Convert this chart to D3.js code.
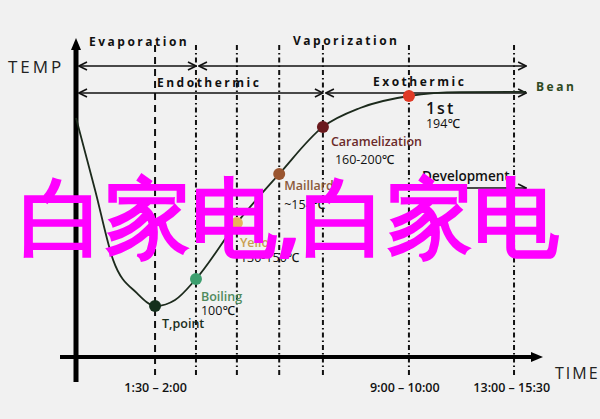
<!DOCTYPE html>
<html><head><meta charset="utf-8">
<script src="https://cdn.jsdelivr.net/npm/d3@7"></script>
<style>
html,body{margin:0;padding:0;background:#f1f1f1;}
svg{display:block;}
text{font-family:"Open Sans","Noto Sans",sans-serif;}
</style></head>
<body>
<script>
// ---- data (abstract units: x = roast progress 0..100, y = relative temperature 0..100) ----
const stageLines = [17, 25.8, 34.6, 43.7, 53.1, 71.6, 94.2];
const curveX = [0, 2.4, 4.1, 8, 13.1, 17.2, 21.3, 25.8, 34.6, 43.7, 53.1, 61.1, 71.6, 82.6, 96.8];
const curveY = [79.7, 65.7, 55.7, 32.3, 21.3, 17, 19, 26, 44.7, 61, 76.7, 83, 87, 88.3, 88.4];
const pointNames = ["T,point", "Boiling", "Yello", "Maillard", "Caramelization", "1st"];
const pointTemps = ["", "100℃", "130-150℃", "~154℃", "160-200℃", "194℃"];
const pointX = [17, 25.8, 34.6, 43.7, 53.1, 71.6];
const pointY = [17, 26, 44.7, 61, 76.7, 87];
const tickValues = [17, 70.6, 93.6];
const tickLabels = ["1:30 – 2:00", "9:00 – 10:00", "13:00 – 15:30"];
const phaseNames = ["Evaporation", "Vaporization"];
const phaseFrom = [0, 25.8];
const phaseTo = [25.8, 96.8];
const heatNames = ["Endothermic", "Exothermic"];
const heatFrom = [0, 53.1];
const heatTo = [53.1, 96.8];
const devFrom = 71.6, devTo = 96.8;

// ---- layout ----
const W = 600, H = 419;
const x = d3.scaleLinear().domain([0, 100]).range([76, 541]);
const y = d3.scaleLinear().domain([0, 100]).range([357, 57]);
const svg = d3.select("body").append("svg").attr("width", W).attr("height", H);
svg.append("rect").attr("width", W).attr("height", H).attr("fill", "#f1f1f1");

const defs = svg.append("defs");
defs.append("marker").attr("id", "chev").attr("viewBox", "0 0 10 10")
  .attr("refX", 9).attr("refY", 5).attr("markerWidth", 10).attr("markerHeight", 10)
  .attr("markerUnits", "userSpaceOnUse").attr("orient", "auto-start-reverse")
  .append("path").attr("d", "M1,1 L9,5 L1,9").attr("fill", "none")
  .attr("stroke", "#111").attr("stroke-width", 1.6);

// vertical stage lines
const lineDash = ["7,5", "5,3,1.5,3", "5,3,1.5,3", "5,3,1.5,3", "5,3,1.5,3", "5,3,1.5,3", "5,3,1.5,3"];
svg.append("g").selectAll("line").data(stageLines).join("line")
  .attr("x1", d => x(d)).attr("x2", d => x(d))
  .attr("y1", 45).attr("y2", 375)
  .attr("stroke", "#111").attr("stroke-width", 2)
  .attr("stroke-dasharray", (d, i) => lineDash[i]);

// axes (thick, with arrows)
svg.append("line").attr("x1", x(0)).attr("x2", x(0)).attr("y1", 48).attr("y2", 382)
  .attr("stroke", "#000").attr("stroke-width", 5);
svg.append("path").attr("d", `M${x(0)-5},50 L${x(0)},38 L${x(0)+5},50 Z`).attr("fill", "#000");
svg.append("line").attr("x1", 60).attr("x2", 533).attr("y1", y(0)).attr("y2", y(0))
  .attr("stroke", "#000").attr("stroke-width", 4);
svg.append("path").attr("d", `M531,${y(0)-5} L543,${y(0)} L531,${y(0)+5} Z`).attr("fill", "#000");

svg.append("text").attr("x", 8).attr("y", 73).text("TEMP")
  .attr("font-size", 17).attr("letter-spacing", 3).attr("fill", "#222");
svg.append("text").attr("x", 555).attr("y", 379).text("TIME")
  .attr("font-size", 16).attr("letter-spacing", 2).attr("fill", "#222");

// tick labels via axis
const axisG = svg.append("g").attr("transform", `translate(0,${380})`)
  .call(d3.axisBottom(x).tickValues(tickValues).tickSize(0)
    .tickFormat((d, i) => tickLabels[i]));
axisG.select(".domain").remove();
axisG.selectAll("text").attr("font-size", 12.5).attr("font-weight", 600)
  .attr("fill", "#111").attr("font-family", "'Open Sans','Noto Sans',sans-serif");

// range arrows
function rangeArrow(from, to, yy) {
  svg.append("line").attr("x1", x(from) + 3).attr("x2", x(to)).attr("y1", yy).attr("y2", yy)
    .attr("stroke", "#111").attr("stroke-width", 1.6)
    .attr("marker-start", "url(#chev)").attr("marker-end", "url(#chev)");
}
phaseNames.forEach((n, i) => rangeArrow(phaseFrom[i], phaseTo[i], 66));
heatNames.forEach((n, i) => rangeArrow(heatFrom[i], heatTo[i], 93));
svg.append("line").attr("x1", x(devFrom) + 1).attr("x2", x(devTo)).attr("y1", 188).attr("y2", 188)
  .attr("stroke", "#111").attr("stroke-width", 1.6).attr("marker-end", "url(#chev)");

const capStyle = s => s.attr("font-size", 12).attr("font-weight", 700)
  .attr("letter-spacing", 2.5).attr("fill", "#111");
svg.append("text").attr("x", 89).attr("y", 46).text(phaseNames[0]).call(capStyle);
svg.append("text").attr("x", 293).attr("y", 45).text(phaseNames[1]).call(capStyle);
svg.append("text").attr("x", 157).attr("y", 87).text(heatNames[0]).call(capStyle);
svg.append("text").attr("x", 373).attr("y", 86).text(heatNames[1]).call(capStyle);
svg.append("text").attr("x", 536).attr("y", 91).text("Bean").call(capStyle).attr("fill", "#2e4a22");
svg.append("text").attr("x", 422).attr("y", 181).text("Development")
  .attr("font-size", 13.5).attr("font-weight", 600).attr("fill", "#111");

// curve
const curveData = curveX.map((v, i) => [v, curveY[i]]);
svg.append("path").datum(curveData)
  .attr("d", d3.line().x(d => x(d[0])).y(d => y(d[1])).curve(d3.curveMonotoneX))
  .attr("fill", "none").attr("stroke", "#1c2a1c").attr("stroke-width", 1.8);

// points & labels
const pointColors = ["#14301c", "#3c9e6e", "#e8b45a", "#9a5530", "#6a1a1e", "#e03a26"];
const nameColors = ["#1b2e1b", "#4f8a5c", "#c9a050", "#8b5a3c", "#6b2a2a", "#111"];
const dx = [7, 5, 3, 5, 8, 17];
const dyName = [22, 22, 24, 16, 19, 18];
const dyTemp = [0, 36, 39, 35, 37, 32];
const nameSize = [12.5, 12.5, 12.5, 12.5, 12.5, 16];
const g = svg.append("g");
g.selectAll("circle").data(pointNames).join("circle")
  .attr("cx", (d, i) => x(pointX[i])).attr("cy", (d, i) => y(pointY[i])).attr("r", 6)
  .attr("fill", (d, i) => pointColors[i]);
g.selectAll("text.name").data(pointNames).join("text").attr("class", "name")
  .attr("x", (d, i) => x(pointX[i]) + dx[i]).attr("y", (d, i) => y(pointY[i]) + dyName[i])
  .attr("font-size", (d, i) => nameSize[i]).attr("font-weight", 600)
  .attr("letter-spacing", (d, i) => i === 5 ? 2 : 0)
  .attr("fill", (d, i) => nameColors[i]).text(d => d);
g.selectAll("text.temp").data(pointTemps).join("text").attr("class", "temp")
  .attr("x", (d, i) => x(pointX[i]) + dx[i] + (i === 4 ? 4 : 0)).attr("y", (d, i) => y(pointY[i]) + dyTemp[i])
  .attr("font-size", 12.5).attr("font-weight", 500).attr("fill", "#111").text(d => d);

// watermark overlay
svg.append("text").attr("x", 289).attr("y", 214).attr("text-anchor", "middle")
  .attr("dominant-baseline", "central")
  .attr("font-family", "'Noto Sans CJK SC',sans-serif").attr("font-weight", 700)
  .attr("font-size", 86).attr("fill", "#ff00ff").text("白家电,白家电");
</script>
</body></html>
